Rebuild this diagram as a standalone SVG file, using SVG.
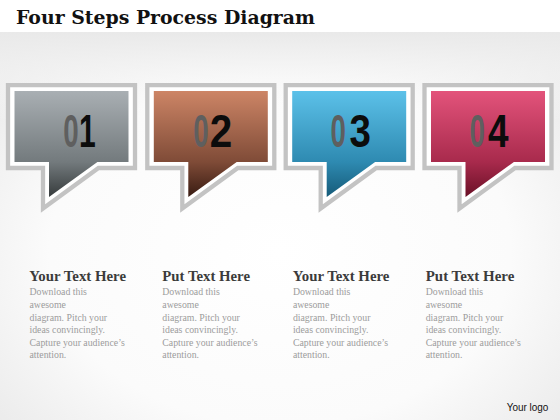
<svg xmlns="http://www.w3.org/2000/svg" xmlns:xlink="http://www.w3.org/1999/xlink" width="560" height="420" viewBox="0 0 560 420">
  <defs>
    <radialGradient id="bg" cx="0.5" cy="0.6" r="0.75">
      <stop offset="0" stop-color="#ffffff"/>
      <stop offset="0.55" stop-color="#fbfbfb"/>
      <stop offset="1" stop-color="#e4e4e4"/>
    </radialGradient>
    <linearGradient id="topShade" x1="0" y1="0" x2="0" y2="1">
      <stop offset="0" stop-color="#e9e9e9" stop-opacity="1"/>
      <stop offset="1" stop-color="#ffffff" stop-opacity="0"/>
    </linearGradient>
    <linearGradient id="g1" x1="0" y1="0" x2="0" y2="1">
      <stop offset="0" stop-color="#a9afb3"/>
      <stop offset="0.67" stop-color="#737a7d"/>
      <stop offset="1" stop-color="#363b3c"/>
    </linearGradient>
    <linearGradient id="g2" x1="0" y1="0" x2="0" y2="1">
      <stop offset="0" stop-color="#cd8566"/>
      <stop offset="0.67" stop-color="#7f4b37"/>
      <stop offset="1" stop-color="#381b12"/>
    </linearGradient>
    <linearGradient id="g3" x1="0" y1="0" x2="0" y2="1">
      <stop offset="0" stop-color="#5cc1e9"/>
      <stop offset="0.67" stop-color="#2e8ab1"/>
      <stop offset="1" stop-color="#155a78"/>
    </linearGradient>
    <linearGradient id="g4" x1="0" y1="0" x2="0" y2="1">
      <stop offset="0" stop-color="#e3537b"/>
      <stop offset="0.67" stop-color="#a82a4c"/>
      <stop offset="1" stop-color="#6a1026"/>
    </linearGradient>
    <path id="frame" d="M2 85.2 H129 V168 H92.5 L37 208.5 V168 H2 Z"/>
    <path id="fill" d="M8.5 91 H122.5 V162 H91.4 L43 197 V162 H8.5 Z"/>
  </defs>
  <style>
    .frame { fill: #ffffff; stroke: #c3c3c3; stroke-width: 4.3; stroke-linejoin: miter; }
    .num { font-family: "Liberation Sans", Arial, sans-serif; font-weight: bold; font-size: 47px; }
    .n0 { fill: #5f5f5f; }
    .nd { fill: #0c0c0c; }
    .title { font-family: "DejaVu Serif", "Liberation Serif", serif; font-weight: bold; font-size: 18.5px; fill: #111111; }
    .head { font-family: "Liberation Serif", "Times New Roman", serif; font-weight: bold; font-size: 15px; fill: #3b3b3b; }
    .body { font-family: "Liberation Serif", "Times New Roman", serif; font-size: 9.8px; fill: #9c9c9c; }
    .logo { font-family: "Liberation Sans", Arial, sans-serif; font-size: 10.5px; fill: #111111; }
  </style>

  <rect x="0" y="0" width="560" height="420" fill="url(#bg)"/>
  <rect x="0" y="32" width="560" height="90" fill="url(#topShade)"/>
  <rect x="0" y="0" width="560" height="32" fill="#ffffff"/>

  <text class="title" x="16" y="23.5" textLength="299" lengthAdjust="spacingAndGlyphs">Four Steps Process Diagram</text>

  <g id="connectors"/>

  <g id="step1">
    <use xlink:href="#frame" href="#frame" class="frame" transform="translate(6,0)"/>
    <use xlink:href="#fill" href="#fill" fill="url(#g1)" transform="translate(6,0)"/>
    <text class="num n0" transform="translate(63.2,147) scale(0.59,1)">0</text>
    <text class="num nd" transform="translate(79.1,147) scale(0.64,1)">1</text>
  </g>

  <g id="step2">
    <use xlink:href="#frame" href="#frame" class="frame" transform="translate(145.3,0)"/>
    <use xlink:href="#fill" href="#fill" fill="url(#g2)" transform="translate(145.3,0)"/>
    <text class="num n0" transform="translate(193.2,147) scale(0.59,1)">0</text>
    <text class="num nd" transform="translate(209.8,147) scale(0.86,1)">2</text>
  </g>

  <g id="step3">
    <use xlink:href="#frame" href="#frame" class="frame" transform="translate(283.7,0)"/>
    <use xlink:href="#fill" href="#fill" fill="url(#g3)" transform="translate(283.7,0)"/>
    <text class="num n0" transform="translate(330.6,147) scale(0.59,1)">0</text>
    <text class="num nd" transform="translate(349.5,147) scale(0.82,1)">3</text>
  </g>

  <g id="step4">
    <use xlink:href="#frame" href="#frame" class="frame" transform="translate(422.5,0)"/>
    <use xlink:href="#fill" href="#fill" fill="url(#g4)" transform="translate(422.5,0)"/>
    <text class="num n0" transform="translate(469.6,147) scale(0.59,1)">0</text>
    <text class="num nd" transform="translate(488,147) scale(0.785,1)">4</text>
  </g>

  <g id="text1">
    <text class="head" x="29.3" y="280.5" textLength="96.7" lengthAdjust="spacingAndGlyphs">Your Text Here</text>
    <text class="body" x="29.5">
      <tspan x="29.5" y="295">Download this</tspan>
      <tspan x="29.5" y="308.3">awesome</tspan>
      <tspan x="29.5" y="320.8">diagram. Pitch your</tspan>
      <tspan x="29.5" y="333.3">ideas convincingly.</tspan>
      <tspan x="29.5" y="345.8">Capture your audience’s</tspan>
      <tspan x="29.5" y="358.3">attention.</tspan>
    </text>
  </g>

  <g id="text2">
    <text class="head" x="162.3" y="280.5" textLength="87.7" lengthAdjust="spacingAndGlyphs">Put Text Here</text>
    <text class="body" x="162.3">
      <tspan x="162.3" y="295">Download this</tspan>
      <tspan x="162.3" y="308.3">awesome</tspan>
      <tspan x="162.3" y="320.8">diagram. Pitch your</tspan>
      <tspan x="162.3" y="333.3">ideas convincingly.</tspan>
      <tspan x="162.3" y="345.8">Capture your audience’s</tspan>
      <tspan x="162.3" y="358.3">attention.</tspan>
    </text>
  </g>

  <g id="text3">
    <text class="head" x="292.7" y="280.5" textLength="96.7" lengthAdjust="spacingAndGlyphs">Your Text Here</text>
    <text class="body" x="292.9">
      <tspan x="292.9" y="295">Download this</tspan>
      <tspan x="292.9" y="308.3">awesome</tspan>
      <tspan x="292.9" y="320.8">diagram. Pitch your</tspan>
      <tspan x="292.9" y="333.3">ideas convincingly.</tspan>
      <tspan x="292.9" y="345.8">Capture your audience’s</tspan>
      <tspan x="292.9" y="358.3">attention.</tspan>
    </text>
  </g>

  <g id="text4">
    <text class="head" x="425.7" y="280.5" textLength="88.6" lengthAdjust="spacingAndGlyphs">Put Text Here</text>
    <text class="body" x="425.7">
      <tspan x="425.7" y="295">Download this</tspan>
      <tspan x="425.7" y="308.3">awesome</tspan>
      <tspan x="425.7" y="320.8">diagram. Pitch your</tspan>
      <tspan x="425.7" y="333.3">ideas convincingly.</tspan>
      <tspan x="425.7" y="345.8">Capture your audience’s</tspan>
      <tspan x="425.7" y="358.3">attention.</tspan>
    </text>
  </g>

  <text class="logo" x="506.7" y="411" textLength="41.7" lengthAdjust="spacingAndGlyphs">Your logo</text>
</svg>
